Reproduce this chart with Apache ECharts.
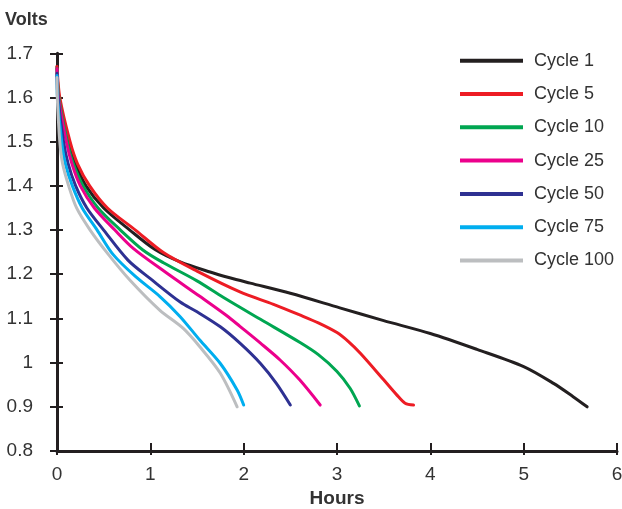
<!DOCTYPE html>
<html>
<head>
<meta charset="utf-8">
<script src="https://cdn.jsdelivr.net/npm/echarts@6/dist/echarts.min.js"></script>
<style>
html,body{margin:0;padding:0;background:#fff;}
#chart{width:622px;height:509px;}
</style>
</head>
<body>
<div id="chart"></div>
<script>
// Data (hours, volts)
const seriesNames = ['Cycle 1', 'Cycle 5', 'Cycle 10', 'Cycle 25', 'Cycle 50', 'Cycle 75', 'Cycle 100'];
const xTicks = [0, 1, 2, 3, 4, 5, 6];
const yTicks = [0.8, 0.9, 1.0, 1.1, 1.2, 1.3, 1.4, 1.5, 1.6, 1.7];

const cycle1 = [[0,1.67],[0.02,1.60],[0.12,1.50],[0.20,1.45],[0.31,1.40],[0.50,1.35],[0.78,1.30],[1.05,1.256],[1.32,1.228],[1.64,1.205],[1.85,1.192],[2.07,1.180],[2.5,1.157],[3.03,1.124],[3.5,1.095],[4.0,1.066],[4.5,1.030],[5.0,0.991],[5.32,0.953],[5.53,0.923],[5.68,0.90]];
const cycle5 = [[0,1.67],[0.03,1.60],[0.14,1.50],[0.22,1.45],[0.35,1.40],[0.54,1.35],[0.84,1.30],[1.14,1.249],[1.50,1.207],[1.96,1.160],[2.32,1.132],[2.60,1.108],[2.80,1.090],[3.0,1.068],[3.12,1.048],[3.25,1.021],[3.50,0.961],[3.64,0.927],[3.73,0.908],[3.82,0.904]];
const cycle10 = [[0,1.665],[0.02,1.60],[0.11,1.50],[0.175,1.45],[0.28,1.40],[0.44,1.35],[0.68,1.30],[0.92,1.255],[1.14,1.226],[1.50,1.185],[1.78,1.148],[2.18,1.098],[2.6,1.046],[2.80,1.018],[3.0,0.980],[3.14,0.942],[3.24,0.902]];
const cycle25 = [[0,1.665],[0.015,1.60],[0.10,1.50],[0.16,1.45],[0.25,1.40],[0.40,1.35],[0.62,1.30],[0.82,1.258],[1.16,1.205],[1.53,1.150],[1.82,1.106],[1.96,1.082],[2.18,1.044],[2.39,1.006],[2.60,0.961],[2.82,0.904]];
const cycle50 = [[0,1.655],[0.01,1.60],[0.07,1.50],[0.12,1.45],[0.20,1.40],[0.32,1.35],[0.50,1.30],[0.76,1.232],[1.0,1.190],[1.32,1.137],[1.50,1.115],[1.75,1.081],[1.96,1.044],[2.18,0.998],[2.35,0.953],[2.50,0.904]];
const cycle75 = [[0,1.65],[0.005,1.60],[0.05,1.50],[0.09,1.45],[0.165,1.40],[0.27,1.35],[0.43,1.30],[0.60,1.245],[0.84,1.195],[1.10,1.150],[1.32,1.104],[1.53,1.051],[1.75,0.998],[1.93,0.938],[2.0,0.904]];
const cycle100 = [[0,1.645],[0.003,1.60],[0.03,1.50],[0.06,1.45],[0.125,1.40],[0.21,1.35],[0.355,1.30],[0.55,1.245],[0.78,1.187],[1.10,1.119],[1.35,1.078],[1.53,1.036],[1.75,0.976],[1.93,0.90]];

const seriesData = [cycle1, cycle5, cycle10, cycle25, cycle50, cycle75, cycle100];
const colors = ['#231f20', '#ed1c24', '#00a651', '#ec008c', '#2e3192', '#00aeef', '#bcbec0'];

const FONT = '"Liberation Sans", Arial, sans-serif';
const AX = '#231f20';

const chart = echarts.init(document.getElementById('chart'));

const baseX = {
  type: 'value', min: 0, max: 6, interval: 1, position: 'bottom',
  splitLine: { show: false }
};
const baseY = {
  type: 'value', min: 0.8, max: 1.7, interval: 0.1, position: 'left',
  splitLine: { show: false }
};

chart.setOption({
  animation: false,
  backgroundColor: '#fff',
  grid: { left: 57, right: 5, top: 53.3, bottom: 58, containLabel: false, outerBoundsMode: 'none' },
  xAxis: [
    Object.assign({}, baseX, {
      axisLine: { show: true, lineStyle: { color: AX, width: 3 } },
      axisTick: { show: true, inside: false, length: 4, lineStyle: { color: AX, width: 2 } },
      axisLabel: { show: true, margin: 14, fontSize: 19, color: '#333', fontFamily: FONT,
        formatter: v => xTicks.includes(v) ? String(v) : '' },
      name: 'Hours', nameLocation: 'middle', nameGap: 38,
      nameTextStyle: { fontSize: 19, fontWeight: 'bold', color: '#333', fontFamily: FONT, verticalAlign: 'top' }
    }),
    Object.assign({}, baseX, {
      axisLine: { show: false },
      axisTick: { show: true, inside: true, length: 8, lineStyle: { color: AX, width: 2 } },
      axisLabel: { show: false }
    })
  ],
  yAxis: [
    Object.assign({}, baseY, {
      axisLine: { show: true, lineStyle: { color: AX, width: 3 } },
      axisTick: { show: true, inside: false, length: 7, lineStyle: { color: AX, width: 2 } },
      axisLabel: { show: true, margin: 24, fontSize: 19, color: '#333', fontFamily: FONT,
        formatter: v => {
          const r = Math.round(v * 10) / 10;
          return yTicks.some(t => Math.abs(t - r) < 1e-9) ? (r === 1 ? '1' : r.toFixed(1)) : '';
        } }
    }),
    Object.assign({}, baseY, {
      axisLine: { show: false },
      axisTick: { show: true, inside: true, length: 6, lineStyle: { color: AX, width: 2 } },
      axisLabel: { show: false }
    })
  ],
  legend: {
    orient: 'vertical', left: 460, top: 50.7, padding: 0,
    icon: 'rect', itemWidth: 63, itemHeight: 4, itemGap: 13.3,
    textStyle: { fontSize: 18, color: '#333', fontFamily: FONT, lineHeight: 20, padding: [0, 0, 0, 6] },
    data: seriesNames
  },
  graphic: [
    { type: 'text', left: 5, top: 11, style: { text: 'Volts', fontSize: 18, fontWeight: 'bold', fill: '#333', fontFamily: FONT } }
  ],
  series: seriesNames.map((name, i) => ({
    name: name,
    type: 'line',
    xAxisIndex: 0, yAxisIndex: 0,
    data: seriesData[i],
    smooth: 0.3,
    showSymbol: false, symbol: 'none',
    color: colors[i],
    lineStyle: { color: colors[i], width: 3, cap: 'round', join: 'round' },
    z: 2 + i
  }))
});
</script>
</body>
</html>
